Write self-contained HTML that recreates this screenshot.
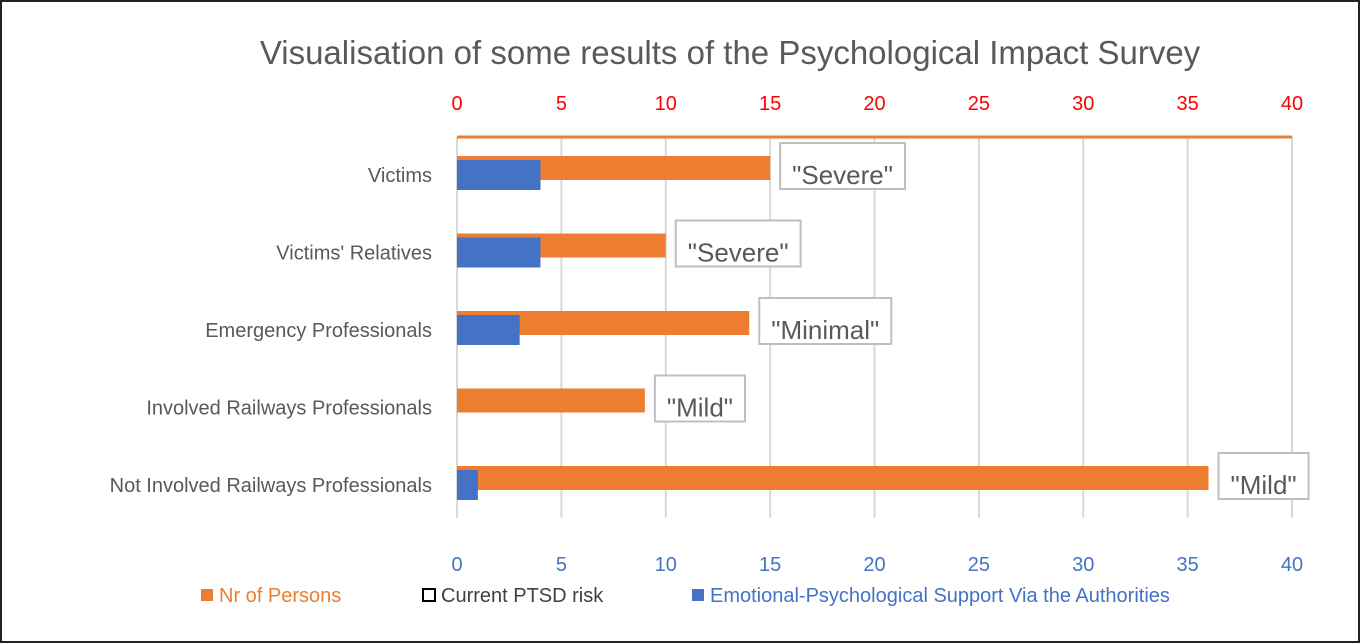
<!DOCTYPE html>
<html><head><meta charset="utf-8"><style>
body{margin:0;background:#fff}
svg{display:block;font-family:"Liberation Sans",sans-serif}
</style></head><body>
<svg width="1360" height="643" viewBox="0 0 1360 643">
<rect x="1" y="1" width="1358" height="641" fill="#fff" stroke="#222" stroke-width="2"/>
<text x="730" y="64" font-size="33" fill="#595959" text-anchor="middle">Visualisation of some results of the Psychological Impact Survey</text>
<g id="grid"></g>
<g id="bars"></g>
<g id="labels"></g>
<g id="legend">
<rect x="201" y="589" width="12" height="12" fill="#ed7d31"/>
<text x="219" y="602" font-size="20" fill="#ed7d31">Nr of Persons</text>
<rect x="423" y="589" width="12" height="12" fill="#fff" stroke="#000" stroke-width="2"/>
<text x="441" y="602" font-size="20" fill="#404040">Current PTSD risk</text>
<rect x="692" y="589" width="12" height="12" fill="#4472c4"/>
<text x="710" y="602" font-size="20" fill="#4472c4">Emotional-Psychological Support Via the Authorities</text>
</g>
</svg>
<script>
const categories=["Victims","Victims' Relatives","Emergency Professionals","Involved Railways Professionals","Not Involved Railways Professionals"];
const persons=[15,10,14,9,36];
const support=[4,4,3,0,1];
const risk=['"Severe"','"Severe"','"Minimal"','"Mild"','"Mild"'];
const ticks=[0,5,10,15,20,25,30,35,40];
const NS="http://www.w3.org/2000/svg";
const x=v=>457+v*(1292-457)/40;
const top0=136.25,band=77.5;
const cy=i=>top0+band*(i+0.5);
function mk(tag,attrs,parent,text){const e=document.createElementNS(NS,tag);for(const k in attrs)e.setAttribute(k,attrs[k]);if(text!==undefined)e.textContent=text;document.getElementById(parent).appendChild(e);return e;}
ticks.forEach(t=>{
 const g=mk('line',{x1:x(t),x2:x(t),y1:137,y2:518,stroke:'#d9d9d9','stroke-width':2},'grid');
 
 
 const a=mk('text',{x:x(t),y:110,'font-size':20,fill:'#ff0000','text-anchor':'middle'},'grid',t);
 
 
 const b=mk('text',{x:x(t),y:571,'font-size':20,fill:'#4472c4','text-anchor':'middle'},'grid',t);
 
 
});
const ax=mk('line',{x1:457,x2:1292,y1:137,y2:137,stroke:'#ed7d31','stroke-width':3},'grid');


categories.forEach((c,i)=>{
 const y=cy(i);
 const l=mk('text',{x:432,y:y+7,'font-size':20,fill:'#595959','text-anchor':'end'},'labels',c);
 
 
 const o=mk('rect',{x:x(0),y:y-19,width:x(persons[i])-x(0),height:24,fill:'#ed7d31'},'bars');
 
 
 const b=mk('rect',{x:x(0),y:y-15,width:x(support[i])-x(0),height:30,fill:'#4472c4'},'bars');
 
 
 const bx=x(persons[i])+10;
 const t=mk('text',{x:bx+12,y:y+9,'font-size':26,fill:'#595959'},'labels',risk[i]);
 
 
 const w=t.getComputedTextLength();
 const r=mk('rect',{x:bx,y:y-32,width:w+24,height:46,fill:'#fff',stroke:'#bfbfbf','stroke-width':2},'labels');
 
 
 document.getElementById('labels').insertBefore(r,t);
});
</script>
</body></html>
